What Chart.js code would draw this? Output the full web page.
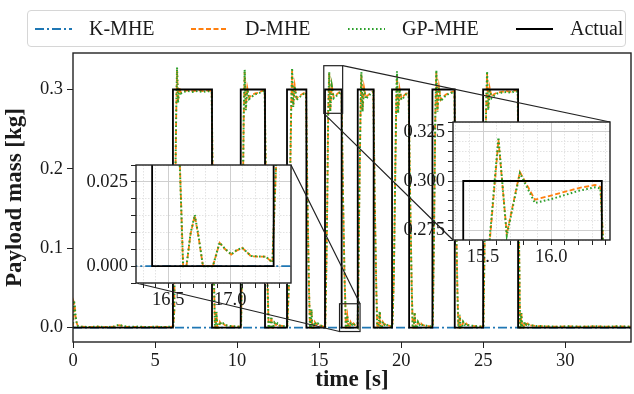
<!DOCTYPE html>
<html>
<head>
<meta charset="utf-8">
<title>Payload mass estimation</title>
<script src="https://cdn.jsdelivr.net/npm/chart.js"></script>
<style>
  body { margin: 0; background: #fff; }
  #wrap { position: relative; width: 634px; height: 394px; overflow: hidden; }
  #wrap canvas { position: absolute; }
  #legend {
    position: absolute; left: 27px; top: 10px; width: 599px; height: 37px;
    box-sizing: border-box; border: 1px solid #d6d6d6; border-radius: 4px;
    background: rgba(255,255,255,0.8); z-index: 3;
    font-family: "Liberation Serif", serif; font-size: 20px; color: #1a1a1a;
  }
  #legend .key { position: absolute; top: 16px; display: block; height: 4px; }
  #legend .key svg { display: block; }
  #legend .lbl { position: absolute; top: 6px; line-height: 22px; }
</style>
</head>
<body>
<div id="wrap">
  <canvas id="mainChart" width="634" height="394" style="left:0;top:0;z-index:0"></canvas>
  <canvas id="inset1" width="241" height="168" style="left:70px;top:145px;z-index:1"></canvas>
  <canvas id="inset2" width="245" height="168" style="left:385px;top:102px;z-index:2"></canvas>
  <div id="legend"></div>
</div>

<script>
    // ---- data ----
    const kmheTime = [0, 34];
    const kmhe = [0, 0];

    const actualTime = [0, 6.09, 8.47, 10.22, 11.70, 13.04, 14.22, 15.355, 16.37, 17.35, 18.32, 19.44, 20.48, 21.90, 23.26, 24.99, 27.12, 34];
    const actualVal  = [0, 0.3,  0,    0.3,   0,     0.3,   0,     0.3,    0,     0.3,   0,     0.3,   0,     0.3,   0,     0.3,   0,     0];

    const estTime = [
        0.00, 0.05, 0.10, 0.15, 0.22, 0.30, 0.50, 1.00, 1.50, 2.00, 2.50, 2.80, 3.00, 3.30, 4.00, 4.50, 5.00, 5.50, 6.00,
        6.11, 6.17, 6.22, 6.29, 6.34, 6.40, 6.48, 6.58, 6.75, 7.00, 7.30, 7.60, 7.90, 8.20, 8.45,
        8.52, 8.60, 8.65, 8.69, 8.74, 8.80, 8.88, 8.95, 9.05, 9.15, 9.25, 9.50, 9.80, 10.10,
        10.24, 10.32, 10.40, 10.46, 10.53, 10.62, 10.73, 10.90, 11.10, 11.30, 11.50, 11.68,
        11.76, 11.86, 11.92, 11.98, 12.06, 12.09, 12.13, 12.20, 12.27, 12.37, 12.46, 12.55, 12.75, 12.95, 13.02,
        13.06, 13.15, 13.24, 13.30, 13.35, 13.42, 13.51, 13.62, 13.78, 13.95, 14.10, 14.20,
        14.28, 14.38, 14.44, 14.49, 14.53, 14.58, 14.66, 14.73, 14.83, 14.92, 15.00, 15.15, 15.30,
        15.37, 15.45, 15.50, 15.55, 15.613, 15.674, 15.77, 15.88, 16.02, 16.20, 16.32, 16.36,
        16.45, 16.55, 16.594, 16.62, 16.647, 16.68, 16.714, 16.745, 16.78, 16.86, 16.914, 16.96, 17.008, 17.05, 17.096, 17.13, 17.168, 17.23, 17.288, 17.34,
        17.37, 17.45, 17.52, 17.57, 17.64, 17.73, 17.84, 17.98, 18.15, 18.30,
        18.38, 18.48, 18.54, 18.60, 18.64, 18.69, 18.74, 18.82, 18.88, 18.98, 19.07, 19.15, 19.30, 19.42,
        19.46, 19.55, 19.64, 19.70, 19.74, 19.81, 19.90, 20.01, 20.15, 20.30, 20.45,
        20.54, 20.64, 20.70, 20.76, 20.82, 20.87, 20.95, 21.02, 21.12, 21.21, 21.30, 21.60, 21.88,
        21.92, 22.00, 22.08, 22.14, 22.21, 22.30, 22.41, 22.56, 22.75, 22.95, 23.10, 23.24,
        23.32, 23.42, 23.48, 23.53, 23.57, 23.62, 23.70, 23.77, 23.87, 23.96, 24.05, 24.40, 24.70, 24.97,
        25.01, 25.09, 25.17, 25.23, 25.30, 25.39, 25.50, 25.65, 25.85, 26.10, 26.40, 26.70, 26.95, 27.10,
        27.16, 27.22, 27.25, 27.28, 27.32, 27.37, 27.45, 27.52, 27.62, 27.71, 27.80, 28.20, 28.80, 29.50, 30.20, 31.00, 31.80, 32.50, 33.20, 34.00
    ];

    const dmhe = [
        0.000, 0.032, 0.029, 0.015, 0.006, 0.002, 0.001, 0.0005, 0.001, 0.0006, 0.001, 0.003, 0.002, 0.0008, 0.001, 0.0005, 0.001, 0.0006, 0.001,
        0.002, 0.020, 0.150, 0.270, 0.325, 0.285, 0.303, 0.296, 0.298, 0.299, 0.298, 0.299, 0.298, 0.299, 0.298,
        0.170, 0.050, 0.000, 0.000, 0.019, 0.000, 0.000, 0.007, 0.0035, 0.005, 0.003, 0.002, 0.0015, 0.001,
        0.002, 0.100, 0.260, 0.322, 0.276, 0.302, 0.290, 0.293, 0.295, 0.296, 0.298, 0.299,
        0.170, 0.050, 0.000, 0.000, 0.008, 0.0134, 0.000, 0.000, 0.006, 0.003, 0.005, 0.0025, 0.002, 0.0015, 0.001,
        0.002, 0.050, 0.200, 0.280, 0.324, 0.280, 0.305, 0.289, 0.292, 0.294, 0.296, 0.297,
        0.170, 0.050, 0.000, 0.000, 0.022, 0.000, 0.000, 0.007, 0.0035, 0.005, 0.003, 0.002, 0.001,
        0.001, 0.090, 0.170, 0.270, 0.3208, 0.2731, 0.3046, 0.2905, 0.2930, 0.2964, 0.2980, 0.2970,
        0.170, 0.060, 0.030, 0.000, 0.000, 0.0095, 0.0150, 0.0085, 0.000, 0.000, 0.0069, 0.0050, 0.0034, 0.0046, 0.0054, 0.0043, 0.0029, 0.0028, 0.0028, 0.0010,
        0.030, 0.170, 0.270, 0.319, 0.274, 0.303, 0.290, 0.293, 0.296, 0.298,
        0.170, 0.050, 0.000, 0.000, 0.008, 0.0197, 0.000, 0.000, 0.007, 0.0035, 0.005, 0.003, 0.002, 0.001,
        0.002, 0.060, 0.200, 0.285, 0.319, 0.272, 0.301, 0.2887, 0.292, 0.295, 0.297,
        0.170, 0.050, 0.000, 0.000, 0.0184, 0.000, 0.000, 0.007, 0.0035, 0.005, 0.003, 0.002, 0.001,
        0.002, 0.120, 0.270, 0.3215, 0.274, 0.303, 0.287, 0.291, 0.294, 0.296, 0.297, 0.298,
        0.170, 0.050, 0.000, 0.000, 0.0155, 0.000, 0.000, 0.007, 0.0035, 0.005, 0.003, 0.002, 0.0015, 0.001,
        0.002, 0.120, 0.270, 0.320, 0.276, 0.302, 0.291, 0.294, 0.296, 0.297, 0.298, 0.297, 0.299, 0.298,
        0.150, 0.030, 0.000, 0.000, 0.0177, 0.000, 0.000, 0.007, 0.0035, 0.005, 0.003, 0.002, 0.0015, 0.001, 0.0015, 0.001, 0.0015, 0.001, 0.0015, 0.001
    ];

    const gpmhe = [
        0.000, 0.034, 0.030, 0.016, 0.007, 0.002, 0.0012, 0.0006, 0.0012, 0.0005, 0.0012, 0.0035, 0.0022, 0.0009, 0.0012, 0.0006, 0.0012, 0.0005, 0.0012,
        0.002, 0.022, 0.155, 0.275, 0.328, 0.283, 0.302, 0.295, 0.297, 0.298, 0.297, 0.298, 0.297, 0.298, 0.297,
        0.165, 0.048, 0.000, 0.000, 0.020, 0.000, 0.000, 0.0072, 0.0036, 0.0052, 0.0031, 0.0021, 0.0016, 0.0011,
        0.002, 0.105, 0.265, 0.325, 0.274, 0.301, 0.288, 0.291, 0.294, 0.295, 0.297, 0.298,
        0.165, 0.048, 0.000, 0.000, 0.009, 0.014, 0.000, 0.000, 0.0062, 0.0031, 0.0052, 0.0026, 0.0021, 0.0016, 0.0011,
        0.002, 0.055, 0.205, 0.284, 0.327, 0.278, 0.304, 0.287, 0.290, 0.293, 0.295, 0.296,
        0.165, 0.048, 0.000, 0.000, 0.023, 0.000, 0.000, 0.0072, 0.0036, 0.0052, 0.0031, 0.0021, 0.0011,
        0.001, 0.092, 0.172, 0.272, 0.3222, 0.2722, 0.3040, 0.2888, 0.2912, 0.2950, 0.2968, 0.2962,
        0.168, 0.058, 0.029, 0.000, 0.000, 0.0098, 0.0152, 0.0088, 0.000, 0.000, 0.0070, 0.0051, 0.0035, 0.0047, 0.0055, 0.0043, 0.0030, 0.0029, 0.0028, 0.0011,
        0.031, 0.172, 0.273, 0.322, 0.272, 0.302, 0.288, 0.291, 0.295, 0.297,
        0.165, 0.048, 0.000, 0.000, 0.0085, 0.0205, 0.000, 0.000, 0.0072, 0.0036, 0.0052, 0.0031, 0.0021, 0.0011,
        0.002, 0.065, 0.205, 0.289, 0.323, 0.270, 0.300, 0.2870, 0.290, 0.294, 0.296,
        0.165, 0.048, 0.000, 0.000, 0.0190, 0.000, 0.000, 0.0072, 0.0036, 0.0052, 0.0031, 0.0021, 0.0011,
        0.002, 0.125, 0.274, 0.3245, 0.272, 0.302, 0.285, 0.289, 0.293, 0.295, 0.296, 0.297,
        0.165, 0.048, 0.000, 0.000, 0.0160, 0.000, 0.000, 0.0072, 0.0036, 0.0052, 0.0031, 0.0021, 0.0016, 0.0011,
        0.002, 0.125, 0.274, 0.323, 0.274, 0.301, 0.289, 0.292, 0.295, 0.296, 0.297, 0.296, 0.298, 0.297,
        0.145, 0.029, 0.000, 0.000, 0.0182, 0.000, 0.000, 0.0072, 0.0036, 0.0052, 0.0031, 0.0021, 0.0016, 0.0011, 0.0016, 0.0011, 0.0016, 0.0011, 0.0016, 0.0011
    ];

    // zoom windows of the two insets
    const inset1Win = { x0: 16.24, x1: 17.49, y0: -0.005, y1: 0.030 };
    const inset2Win = { x0: 15.28, x1: 16.43, y0: 0.270, y1: 0.330 };

    // ---- styling ----
    Chart.defaults.font.family = "'Liberation Serif', serif";
    Chart.defaults.color = '#1a1a1a';

    const xy = (xs, ys) => xs.map((x, i) => ({ x: x, y: ys[i] }));

    const series = [
        { label: 'K-MHE',  color: '#1f77b4', dash: [9, 3, 2, 3], width: 1.8 },
        { label: 'D-MHE',  color: '#ff7f0e', dash: [5, 2.5],     width: 1.8 },
        { label: 'GP-MHE', color: '#2ca02c', dash: [1.6, 2.4],   width: 2 },
        { label: 'Actual', color: '#000000', dash: [],           width: 1.8 }
    ];

    function makeDatasets() {
        const data = [xy(kmheTime, kmhe), xy(estTime, dmhe), xy(estTime, gpmhe), xy(actualTime, actualVal)];
        return series.map((s, i) => ({
            label: s.label,
            data: data[i],
            borderColor: s.color,
            borderDash: s.dash,
            borderWidth: s.width,
            pointRadius: 0,
            fill: false,
            tension: 0,
            stepped: s.label === 'Actual',
            order: 3 - i
        }));
    }

    const frame = {
        id: 'frame',
        beforeDraw(chart, args, opts) {
            if (!opts.fill) return;
            const a = chart.chartArea;
            chart.ctx.save();
            chart.ctx.fillStyle = '#fff';
            chart.ctx.fillRect(a.left, a.top, a.right - a.left, a.bottom - a.top);
            chart.ctx.restore();
        },
        afterDraw(chart) {
            const a = chart.chartArea;
            const ctx = chart.ctx;
            ctx.save();
            ctx.strokeStyle = '#222';
            ctx.lineWidth = 1.4;
            ctx.strokeRect(a.left, a.top, a.right - a.left, a.bottom - a.top);
            ctx.restore();
        }
    };

    const fontTick = { size: 18.5 };
    const fmt = (v, d) => (Math.round(v * Math.pow(10, d)) / Math.pow(10, d) + 0).toFixed(d);

    function insetChart(id, win, yWidth, xHeight, yDigits) {
        const isMajorX = v => Math.round(v * 10) % 5 === 0;
        const isMajorY = v => Math.round(v * 1000) % 25 === 0;
        const gridColor = major => major ? '#cfcfcf' : '#e3e3e3';
        return new Chart(document.getElementById(id), {
            type: 'line',
            data: { datasets: makeDatasets() },
            options: {
                responsive: false,
                animation: false,
                devicePixelRatio: 1,
                layout: { padding: { top: 20, right: 20, left: 0, bottom: 0 } },
                plugins: { legend: { display: false }, tooltip: { enabled: false }, frame: { fill: true } },
                scales: {
                    x: {
                        type: 'linear', min: win.x0, max: win.x1,
                        ticks: {
                            stepSize: 0.1, includeBounds: false, autoSkip: false, maxRotation: 0,
                            font: fontTick, padding: 1,
                            callback: v => isMajorX(v) ? fmt(v, 1) : ''
                        },
                        grid: {
                            color: c => gridColor(c.tick && isMajorX(c.tick.value)),
                            tickColor: '#222', tickLength: 5
                        },
                        border: { display: false, dash: c => (c.tick && isMajorX(c.tick.value)) ? [] : [1.5, 1.5] },
                        afterFit: s => { s.height = xHeight; }
                    },
                    y: {
                        type: 'linear', min: win.y0, max: win.y1,
                        ticks: {
                            stepSize: 0.005, includeBounds: false, autoSkip: false,
                            font: fontTick, padding: 3,
                            callback: v => isMajorY(v) ? fmt(v, yDigits) : ''
                        },
                        grid: {
                            color: c => gridColor(c.tick && isMajorY(c.tick.value)),
                            tickColor: '#222', tickLength: 5
                        },
                        border: { display: false, dash: c => (c.tick && isMajorY(c.tick.value)) ? [] : [1.5, 1.5] },
                        afterFit: s => { s.width = yWidth; }
                    }
                }
            },
            plugins: [frame]
        });
    }

    const inset1 = insetChart('inset1', inset1Win, 66, 30, 3);
    const inset2 = insetChart('inset2', inset2Win, 68, 30, 3);

    const insets = [
        { win: inset1Win, chart: inset1, canvas: document.getElementById('inset1') },
        { win: inset2Win, chart: inset2, canvas: document.getElementById('inset2') }
    ];

    // zoom rectangles and connector lines (mark_inset)
    const insetMarks = {
        id: 'insetMarks',
        afterDatasetsDraw(chart) {
            const { ctx, scales: { x, y } } = chart;
            ctx.save();
            ctx.strokeStyle = '#222';
            ctx.lineWidth = 1.2;
            insets.forEach(ins => {
                const l = x.getPixelForValue(ins.win.x0), r = x.getPixelForValue(ins.win.x1);
                const t = y.getPixelForValue(ins.win.y1), b = y.getPixelForValue(ins.win.y0);
                ctx.strokeRect(l, t, r - l, b - t);
                const a = ins.chart.chartArea;
                const ox = ins.canvas.offsetLeft, oy = ins.canvas.offsetTop;
                ctx.beginPath();
                ctx.moveTo(l, b); ctx.lineTo(ox + a.left, oy + a.bottom);
                ctx.moveTo(r, t); ctx.lineTo(ox + a.right, oy + a.top);
                ctx.stroke();
            });
            ctx.restore();
        }
    };

    const mainChart = new Chart(document.getElementById('mainChart'), {
        type: 'line',
        data: { datasets: makeDatasets() },
        options: {
            responsive: false,
            animation: false,
            devicePixelRatio: 1,
            layout: { padding: { top: 53, right: 3, left: 0, bottom: 0 } },
            plugins: { legend: { display: false }, tooltip: { enabled: false } },
            scales: {
                x: {
                    type: 'linear', min: 0, max: 34,
                    ticks: { stepSize: 5, includeBounds: false, maxRotation: 0, font: fontTick, padding: 2 },
                    grid: { drawOnChartArea: false, tickColor: '#222', tickLength: 6 },
                    border: { display: false },
                    title: { display: true, text: 'time [s]', font: { size: 23, weight: 'bold' }, padding: { top: 0, bottom: 0 } },
                    afterFit: s => { s.height = 52; }
                },
                y: {
                    type: 'linear', min: -0.0182, max: 0.346,
                    ticks: { stepSize: 0.1, includeBounds: false, font: fontTick, padding: 4, callback: v => fmt(v, 1) },
                    grid: { drawOnChartArea: false, tickColor: '#222', tickLength: 6 },
                    border: { display: false },
                    title: { display: true, text: 'Payload mass [kg]', font: { size: 23, weight: 'bold' }, padding: { top: 1, bottom: 0 } },
                    afterFit: s => { s.width = 73; }
                }
            }
        },
        plugins: [frame, insetMarks]
    });

    // legend (matplotlib style, one row in a rounded frame)
    const legendX = [7, 163, 320, 488];
    const legend = document.getElementById('legend');
    series.forEach((s, i) => {
        const key = document.createElement('span');
        key.className = 'key';
        key.style.left = legendX[i] + 'px';
        key.innerHTML = '<svg width="37" height="4"><line x1="0" y1="2" x2="37" y2="2" stroke="' + s.color +
            '" stroke-width="' + s.width + '" stroke-dasharray="' + (s.dash.length ? s.dash.join(' ') : 'none') + '"/></svg>';
        const lbl = document.createElement('span');
        lbl.className = 'lbl';
        lbl.style.left = (legendX[i] + 54) + 'px';
        lbl.textContent = s.label;
        legend.appendChild(key);
        legend.appendChild(lbl);
    });
</script>
</body>
</html>
